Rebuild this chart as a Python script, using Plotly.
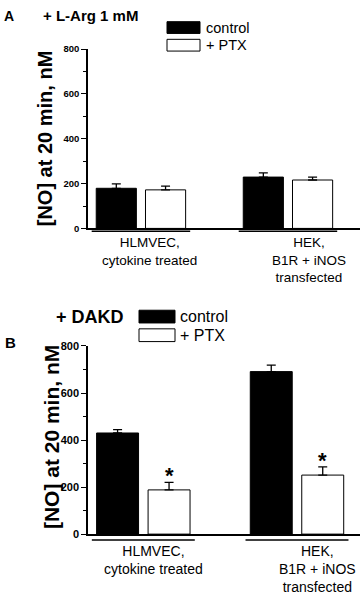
import plotly.graph_objects as go

# ---------------- data ----------------
groups = ["HLMVEC", "HEK"]
group_labels = ["HLMVEC,<br>cytokine treated", "HEK,<br>B1R + iNOS<br>transfected"]
series_names = ["control", "+ PTX"]

# Panel A: + L-Arg 1 mM
a_control = [179, 229]
a_control_err = [20, 19]
a_ptx = [172, 216]
a_ptx_err = [17, 13]

# Panel B: + DAKD
b_control = [430, 691]
b_control_err = [14, 28]
b_ptx = [188, 251]
b_ptx_err = [32, 35]
b_sig = ["*", "*"]

y_ticks = [0, 200, 400, 600, 800]

W, H = 360, 594
FONT = "Liberation Sans"
BARGAP = 0.33
BARGROUPGAP = 0.185


def px(x):
    return x / W


def py(y):
    return 1 - y / H


fig = go.Figure()


def add_panel(ctrl, ctrl_err, ptx, ptx_err, xa, ya):
    fig.add_trace(go.Bar(
        x=groups, y=ctrl, name=series_names[0], xaxis=xa, yaxis=ya,
        marker=dict(color="black", line=dict(color="black", width=1)),
        error_y=dict(type="data", array=ctrl_err, arrayminus=[0] * len(ctrl_err),
                     color="black", thickness=1.3, width=4.5),
        showlegend=False,
    ))
    fig.add_trace(go.Bar(
        x=groups, y=ptx, name=series_names[1], xaxis=xa, yaxis=ya,
        marker=dict(color="white", line=dict(color="black", width=1)),
        error_y=dict(type="data", array=ptx_err, arrayminus=[0] * len(ptx_err),
                     color="black", thickness=1.3, width=4.5),
        showlegend=False,
    ))


add_panel(a_control, a_control_err, a_ptx, a_ptx_err, "x", "y")
add_panel(b_control, b_control_err, b_ptx, b_ptx_err, "x2", "y2")

axis_common = dict(showline=True, linecolor="black", linewidth=1.6, mirror=False,
                   showgrid=False, zeroline=False)

yaxis_common = dict(
    axis_common, range=[0, 800], tickvals=y_ticks, ticks="outside", ticklen=5,
    tickwidth=1.3, tickcolor="black",
    minor=dict(dtick=100, ticks="outside", ticklen=3, tickwidth=1.2, tickcolor="black"),
)

fig.update_layout(
    width=W, height=H,
    margin=dict(l=0, r=0, t=0, b=0),
    paper_bgcolor="white", plot_bgcolor="white",
    barmode="group", bargap=BARGAP, bargroupgap=BARGROUPGAP,
    font=dict(family=FONT, color="black"),
    xaxis=dict(axis_common, domain=[px(88), 1], range=[-0.36, 1.49],
               showticklabels=False, ticks="", anchor="y"),
    yaxis=dict(yaxis_common, domain=[py(227), py(44)], anchor="x",
               tickfont=dict(size=9.5, family=FONT, weight="bold")),
    xaxis2=dict(axis_common, domain=[px(88), 1], range=[-0.36, 1.41],
                showticklabels=False, ticks="", anchor="y2"),
    yaxis2=dict(yaxis_common, domain=[py(539), py(347)], anchor="x2",
                tickfont=dict(size=11, family=FONT, weight="bold")),
)

ann = []
shapes = []


def note(text, x, y, size, xanchor="center", **kw):
    ann.append(dict(text=text, xref="paper", yref="paper", x=px(x), y=py(y),
                    xanchor=xanchor, yanchor="middle", showarrow=False,
                    font=dict(size=size), **kw))


# y-axis titles
note("<b>[NO] at 20 min, nM</b>", 45, 135, 20, textangle=-90)
note("<b>[NO] at 20 min, nM</b>", 51, 440, 21, textangle=-90)

# panel letters and conditions
note("<b>A</b>", 2, 10, 14, xanchor="left")
note("<b>+ L-Arg 1 mM</b>", 41, 10, 15, xanchor="left")
note("<b>B</b>", 3, 343, 15, xanchor="left")
note("<b>+ DAKD</b>", 54, 317, 18, xanchor="left")


# legends (drawn)
def legend(x0, x1, y_ctrl, y_ptx, h, tx, size):
    for (yc, fill, label) in [(y_ctrl, "black", series_names[0]), (y_ptx, "white", series_names[1])]:
        shapes.append(dict(type="rect", xref="paper", yref="paper",
                           x0=px(x0), x1=px(x1), y0=py(yc + h / 2), y1=py(yc - h / 2),
                           fillcolor=fill, line=dict(color="black", width=1)))
        note(label, tx, yc, size, xanchor="left")


legend(167, 200, 22, 40, 12, 204, 14.5)
legend(139, 175, 317, 336, 13, 178, 16)

# group labels and underlines
off = (1 - BARGAP) / 2
for xa, shifts, ylab, yline, size in [
    ("x", [9, 21], 232, 230, 13.5),
    ("x2", [10, 21], 546, 545, 14),
]:
    for i, lab in enumerate(group_labels):
        ann.append(dict(text=lab, xref=xa, yref="paper", x=i, xshift=shifts[i],
                        y=py(ylab), xanchor="center", yanchor="top", showarrow=False,
                        align="center", font=dict(size=size)))
        shapes.append(dict(type="line", xref=xa, yref="paper",
                           x0=i - off, x1=i + off, y0=py(yline), y1=py(yline),
                           line=dict(color="black", width=1.5)))

# significance stars
for i, s in enumerate(b_sig):
    ann.append(dict(text="<b>" + s + "</b>", xref="x2", yref="y2",
                    x=i + (1 - BARGAP) / 4, y=b_ptx[i] + b_ptx_err[i], yshift=-8,
                    xanchor="center", yanchor="bottom", showarrow=False,
                    font=dict(size=22)))

fig.update_layout(annotations=ann, shapes=shapes)
fig.write_html("out.html", config={"displayModeBar": False},
               post_script="document.body.style.margin='0';")
